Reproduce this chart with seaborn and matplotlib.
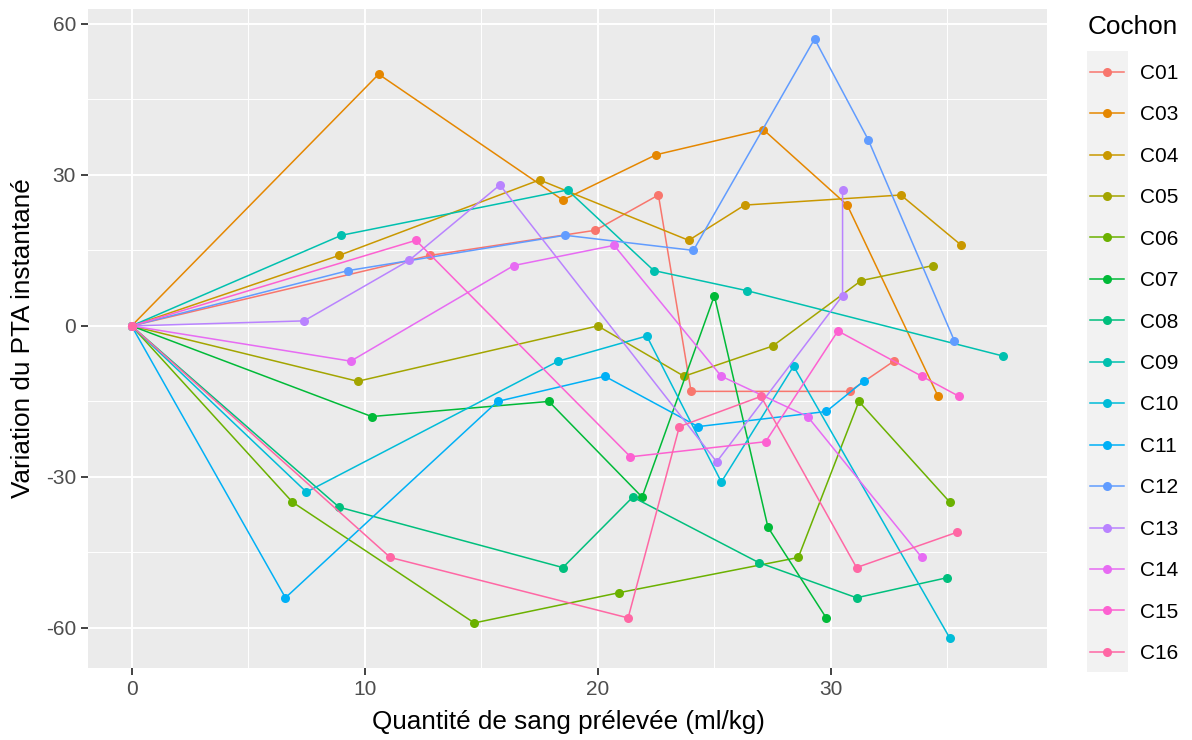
import numpy as np
import pandas as pd
import matplotlib
matplotlib.use("Agg")
import matplotlib.pyplot as plt
import seaborn as sns
from matplotlib.patches import Rectangle
from matplotlib.lines import Line2D

# Pigs and their colours (default ggplot hue palette, 15 levels)
cochons = ["C01", "C03", "C04", "C05", "C06", "C07", "C08", "C09",
           "C10", "C11", "C12", "C13", "C14", "C15", "C16"]
couleurs = ["#F8766D", "#E58700", "#C99800", "#A3A500", "#6BB100",
            "#00BA38", "#00BF7D", "#00C0AF", "#00BCD8", "#00B0F6",
            "#619CFF", "#B983FF", "#E76BF3", "#FD61D1", "#FF67A4"]

# Blood drawn (ml/kg) and instantaneous PTA variation, per pig
sang_C01 = [0, 12.8, 19.9, 22.6, 24.0, 30.8, 32.7]
pta_C01 = [0, 14, 19, 26, -13, -13, -7]
sang_C03 = [0, 10.6, 18.5, 22.5, 27.1, 30.7, 34.6]
pta_C03 = [0, 50, 25, 34, 39, 24, -14]
sang_C04 = [0, 8.9, 17.5, 23.9, 26.3, 33.0, 35.6]
pta_C04 = [0, 14, 29, 17, 24, 26, 16]
sang_C05 = [0, 9.7, 20.0, 23.7, 27.5, 31.3, 34.4]
pta_C05 = [0, -11, 0, -10, -4, 9, 12]
sang_C06 = [0, 6.9, 14.7, 20.9, 28.6, 31.2, 35.1]
pta_C06 = [0, -35, -59, -53, -46, -15, -35]
sang_C07 = [0, 10.3, 17.9, 21.9, 25.0, 27.3, 29.8]
pta_C07 = [0, -18, -15, -34, 6, -40, -58]
sang_C08 = [0, 8.9, 18.5, 21.5, 26.9, 31.1, 35.0]
pta_C08 = [0, -36, -48, -34, -47, -54, -50]
sang_C09 = [0, 9.0, 18.7, 22.4, 26.4, 37.4]
pta_C09 = [0, 18, 27, 11, 7, -6]
sang_C10 = [0, 7.5, 18.3, 22.1, 25.3, 28.4, 35.1]
pta_C10 = [0, -33, -7, -2, -31, -8, -62]
sang_C11 = [0, 6.6, 15.7, 20.3, 24.3, 29.8, 31.4]
pta_C11 = [0, -54, -15, -10, -20, -17, -11]
sang_C12 = [0, 9.3, 18.6, 24.1, 29.3, 31.6, 35.3]
pta_C12 = [0, 11, 18, 15, 57, 37, -3]
sang_C13 = [0, 7.4, 11.9, 15.8, 25.1, 30.5, 30.5]
pta_C13 = [0, 1, 13, 28, -27, 6, 27]
sang_C14 = [0, 9.4, 16.4, 20.7, 25.3, 29.0, 33.9]
pta_C14 = [0, -7, 12, 16, -10, -18, -46]
sang_C15 = [0, 12.2, 21.4, 27.2, 30.3, 33.9, 35.5]
pta_C15 = [0, 17, -26, -23, -1, -10, -14]
sang_C16 = [0, 11.1, 21.3, 23.5, 27.0, 31.1, 35.4]
pta_C16 = [0, -46, -58, -20, -14, -48, -41]

sang = [sang_C01, sang_C03, sang_C04, sang_C05, sang_C06, sang_C07, sang_C08,
        sang_C09, sang_C10, sang_C11, sang_C12, sang_C13, sang_C14, sang_C15,
        sang_C16]
pta = [pta_C01, pta_C03, pta_C04, pta_C05, pta_C06, pta_C07, pta_C08,
       pta_C09, pta_C10, pta_C11, pta_C12, pta_C13, pta_C14, pta_C15, pta_C16]

df = pd.DataFrame({
    "Cochon": np.repeat(cochons, [len(s) for s in sang]),
    "sang": np.concatenate(sang),
    "pta": np.concatenate(pta),
})

plt.rcParams["font.family"] = ["Liberation Sans", "DejaVu Sans"]
plt.rcParams["axes.unicode_minus"] = False

W, H = 1192, 740
fig = plt.figure(figsize=(W / 100, H / 100), dpi=100)
ax = fig.add_axes([88 / W, 1 - 668 / H, (1047 - 88) / W, (668 - 9) / H])
ax.set_facecolor("#EBEBEB")

sns.lineplot(data=df, x="sang", y="pta", hue="Cochon", hue_order=cochons,
             palette=couleurs, estimator=None, sort=True, marker="o",
             markersize=6.5, markeredgewidth=0, linewidth=1.1, legend=False,
             ax=ax)

ax.margins(x=0.05, y=0.05)
ax.set_xticks([0, 10, 20, 30])
ax.set_xticks([5, 15, 25, 35], minor=True)
ax.set_yticks([-60, -30, 0, 30, 60])
ax.set_yticks([-45, -15, 15, 45], minor=True)
ax.grid(which="major", color="white", linewidth=1.4)
ax.grid(which="minor", color="white", linewidth=0.7)
ax.set_axisbelow(True)
for s in ax.spines.values():
    s.set_visible(False)
ax.tick_params(which="major", length=4.7, width=1.3, color="#333333",
               labelcolor="#4D4D4D", labelsize=15, pad=4)
ax.tick_params(which="minor", length=0)

ax.set_xlabel("Quantité de sang prélevée (ml/kg)", fontsize=18.8, color="black",
              va="center")
ax.xaxis.set_label_coords((568 - 88) / (1047 - 88), (668 - 722) / (668 - 9))
ax.set_ylabel("Variation du PTA instantané", fontsize=18.8, color="black",
              va="center")
ax.yaxis.set_label_coords((23 - 88) / (1047 - 88), 0.5)

# Legend: grey key column, title and entries
fig.patches.append(Rectangle((1087 / W, 1 - 672 / H), 41 / W, (672 - 51) / H,
                             transform=fig.transFigure, facecolor="#F2F2F2",
                             edgecolor="none", zorder=0))
fig.text(1088 / W, 1 - 27 / H, "Cochon", fontsize=18.8, va="center", ha="left")
handles = [Line2D([], [], color=c, marker="o", markersize=6.5,
                  markeredgewidth=0, linewidth=1.1) for c in couleurs]
fig.legend(handles, cochons, loc="upper left",
           bbox_to_anchor=(1090 / W, 1 - 64 / H), frameon=False, fontsize=15,
           handlelength=34 / 20.83, labelspacing=1.077,
           handletextpad=16 / 20.83, borderpad=0, borderaxespad=0)

fig.savefig("out.png", dpi=100)
